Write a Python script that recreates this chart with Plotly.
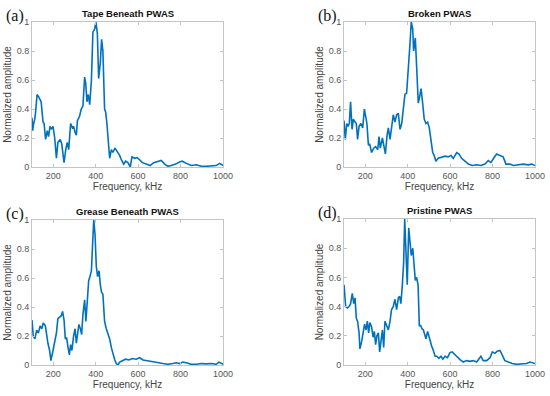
import plotly.graph_objects as go

# (a) Tape Beneath PWAS
freq_a = [100,103,108,113,117,124,133,139,143,152,157,164,172,178,185,191,199,207,215,222,233,240,251,259,266,273,282,290,296,303,309,314,324,332,340,348,353,359,365,372,380,387,395,401,408,414,422,428,434,442,447,453,460,466,474,481,491,500,513,521,532,541,552,563,571,584,595,607,620,638,657,673,693,709,725,740,756,777,795,808,827,850,874,898,921,945,968,984,1000]
amp_a = [0.34,0.25,0.30,0.33,0.38,0.50,0.48,0.46,0.45,0.31,0.30,0.19,0.25,0.21,0.28,0.26,0.28,0.20,0.06,0.17,0.19,0.16,0.03,0.12,0.17,0.12,0.30,0.27,0.28,0.24,0.22,0.32,0.35,0.40,0.42,0.62,0.58,0.45,0.50,0.43,0.60,0.93,0.95,1.00,0.92,0.61,0.72,0.88,0.80,0.40,0.38,0.30,0.15,0.06,0.12,0.10,0.13,0.11,0.08,0.05,0.02,0.04,0.03,0.00,0.07,0.06,0.065,0.05,0.03,0.02,0.01,0.03,0.04,0.045,0.02,0.005,0.01,0.02,0.035,0.04,0.025,0.01,0.015,0.005,0.005,0.008,0.01,0.025,0.01]

# (b) Broken PWAS
freq_b = [100,106,113,119,125,131,138,144,152,158,164,171,180,188,196,202,208,215,221,230,240,249,259,265,271,281,289,295,303,309,317,324,332,340,348,356,364,372,379,387,395,403,411,417,424,428,436,442,450,456,463,470,478,486,494,502,510,518,525,533,544,560,576,591,604,615,631,642,654,670,686,704,725,745,764,780,792,805,819,835,850,863,882,897,921,945,968,984,1000]
amp_b = [0.32,0.19,0.30,0.28,0.30,0.45,0.26,0.33,0.31,0.30,0.19,0.28,0.30,0.27,0.40,0.35,0.30,0.15,0.16,0.10,0.13,0.14,0.12,0.21,0.13,0.20,0.15,0.09,0.22,0.27,0.19,0.28,0.36,0.31,0.36,0.37,0.26,0.30,0.42,0.50,0.51,0.65,0.85,1.00,0.95,0.80,0.89,0.70,0.44,0.48,0.54,0.45,0.33,0.30,0.31,0.27,0.18,0.10,0.08,0.04,0.06,0.07,0.075,0.07,0.08,0.06,0.10,0.09,0.06,0.04,0.02,0.01,0.015,0.01,0.02,0.045,0.03,0.06,0.09,0.08,0.07,0.02,0.02,0.01,0.015,0.02,0.015,0.02,0.01]

# (c) Grease Beneath PWAS
freq_c = [100,106,114,122,130,138,146,153,163,169,175,183,189,199,208,215,222,230,238,244,251,257,263,270,276,282,288,296,303,309,315,321,328,334,340,348,354,361,367,373,380,386,391,397,403,409,416,422,428,434,442,450,458,466,474,481,489,497,505,513,525,541,557,573,591,607,623,638,657,678,698,717,740,764,779,795,811,827,850,874,898,921,945,968,981,1000]
amp_c = [0.31,0.20,0.18,0.24,0.22,0.27,0.25,0.29,0.27,0.20,0.15,0.10,0.03,0.10,0.18,0.22,0.32,0.33,0.34,0.37,0.31,0.18,0.19,0.12,0.07,0.14,0.10,0.20,0.25,0.15,0.23,0.28,0.25,0.21,0.35,0.45,0.30,0.45,0.58,0.61,0.65,0.85,1.00,0.90,0.68,0.61,0.65,0.55,0.50,0.49,0.30,0.25,0.22,0.18,0.12,0.08,0.04,0.01,0.00,0.02,0.03,0.04,0.035,0.045,0.04,0.05,0.035,0.03,0.025,0.02,0.015,0.01,0.005,0.01,0.015,0.01,0.02,0.015,0.005,0.005,0.01,0.008,0.01,0.005,0.02,0.005]

# (d) Pristine PWAS
freq_d = [100,108,116,124,131,139,146,152,158,164,171,175,183,191,197,204,210,216,222,230,237,243,249,255,262,268,274,281,287,293,301,309,317,324,332,340,348,356,362,368,375,381,386,392,398,405,411,417,424,430,436,442,449,455,461,467,474,480,486,494,500,507,513,521,529,538,547,557,566,576,588,599,610,623,635,648,662,678,693,709,725,736,745,756,772,788,799,811,822,835,846,858,874,893,913,937,960,976,987,1000]
amp_d = [0.55,0.40,0.39,0.40,0.42,0.49,0.42,0.46,0.32,0.30,0.22,0.11,0.16,0.22,0.28,0.24,0.30,0.22,0.29,0.26,0.19,0.23,0.14,0.20,0.22,0.09,0.18,0.24,0.12,0.30,0.27,0.24,0.30,0.38,0.40,0.45,0.38,0.46,0.47,0.42,0.55,0.70,1.00,0.80,0.55,0.94,0.85,0.75,0.80,0.68,0.58,0.60,0.55,0.27,0.27,0.25,0.24,0.21,0.18,0.23,0.20,0.15,0.13,0.10,0.06,0.06,0.045,0.06,0.04,0.06,0.05,0.085,0.09,0.07,0.05,0.035,0.02,0.03,0.025,0.03,0.02,0.04,0.06,0.03,0.03,0.05,0.09,0.08,0.095,0.10,0.07,0.03,0.02,0.01,0.005,0.005,0.01,0.02,0.015,0.01]

titles = ["Tape Beneath PWAS", "Broken PWAS", "Grease Beneath PWAS", "Pristine PWAS"]
panel_labels = ["(a)", "(b)", "(c)", "(d)"]
x_ticks = [200, 400, 600, 800, 1000]
y_ticks = [0, 0.2, 0.4, 0.6, 0.8, 1]
y_tick_text = ["0", "0.2", "0.4", "0.6", "0.8", "1"]

W, H = 550, 396
# pixel boxes (left, right, top, bottom)
boxes = [(32, 223, 22, 167), (344, 535, 22, 167), (32, 223, 220, 365), (344, 535, 219, 365)]

series = [(freq_a, amp_a), (freq_b, amp_b), (freq_c, amp_c), (freq_d, amp_d)]

fig = go.Figure()
layout = dict(width=W, height=H, margin=dict(l=0, r=0, t=0, b=0),
              paper_bgcolor="white", plot_bgcolor="white", showlegend=False)
annotations = []
line_color = "#0072BD"
ax_color = "#c4c4c4"
tick_font = dict(family="Liberation Sans, Arial, sans-serif", size=9, color="#555555")
lab_font = dict(family="Liberation Sans, Arial, sans-serif", size=10, color="#444444")

for i, ((fx, fy), (l, r, t, b)) in enumerate(zip(series, boxes)):
    n = "" if i == 0 else str(i + 1)
    fig.add_trace(go.Scatter(x=fx, y=fy, mode="lines", line=dict(color=line_color, width=1.6),
                             xaxis="x" + n, yaxis="y" + n, hoverinfo="skip"))
    xd = [l / W, r / W]
    yd = [1 - b / H, 1 - t / H]
    layout["xaxis" + n] = dict(domain=xd, anchor="y" + n, range=[100, 1000], tickvals=x_ticks,
                               ticks="inside", ticklen=3, tickcolor=ax_color, showline=True,
                               linecolor=ax_color, linewidth=1, mirror="ticks", showgrid=False,
                               zeroline=False, tickfont=tick_font, automargin=False,
                               title=dict(text="Frequency, kHz", font=lab_font, standoff=2))
    layout["yaxis" + n] = dict(domain=yd, anchor="x" + n, range=[0, 1], tickvals=y_ticks,
                               ticktext=y_tick_text,
                               ticks="inside", ticklen=3, tickcolor=ax_color, showline=True,
                               linecolor=ax_color, linewidth=1, mirror="ticks", showgrid=False,
                               zeroline=False, tickfont=tick_font, automargin=False,
                               title=dict(text="Normalized amplitude", font=lab_font, standoff=3))
    annotations.append(dict(text="<b>" + titles[i] + "</b>", x=(l + r) / 2 / W, y=1 - (t - 1) / H,
                            xref="paper", yref="paper", xanchor="center", yanchor="bottom",
                            showarrow=False,
                            font=dict(family="Liberation Sans, Arial, sans-serif", size=9.5, color="#111111")))
    annotations.append(dict(text=panel_labels[i], x=(l - 28) / W, y=1 - (t - 6) / H,
                            xref="paper", yref="paper", xanchor="left", yanchor="middle",
                            showarrow=False,
                            font=dict(family="Liberation Serif, Times New Roman, serif", size=16, color="#111111")))

layout["annotations"] = annotations
fig.update_layout(**layout)
fig.write_html("out.html", config={"displayModeBar": False, "staticPlot": True},
               post_script="document.body.style.margin='0px';document.body.style.overflow='hidden';")
